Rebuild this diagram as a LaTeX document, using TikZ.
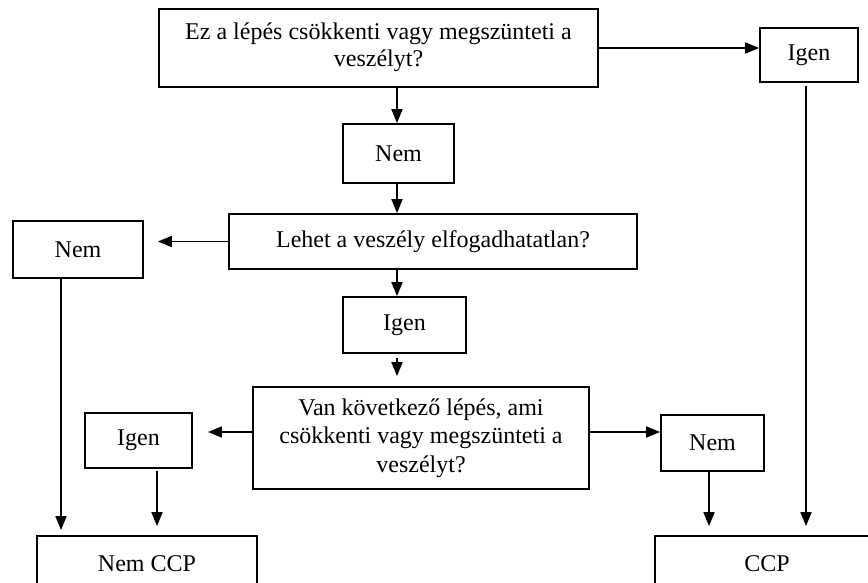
\documentclass[tikz,border=0pt]{standalone}
\usepackage{fontspec}
\setmainfont{Liberation Serif}
\usetikzlibrary{arrows.meta}
\begin{document}
\begin{tikzpicture}[x=1pt,y=-1pt,
  box/.style={draw,line width=1.8pt,inner sep=0pt,align=center,
    font=\fontsize{24}{28.5}\selectfont},
  arr/.style={line width=1.8pt,-{Triangle[length=14pt,width=11pt]}}]
\clip (0,0) rectangle (868,583);
\fill[white] (0,0) rectangle (868,583);

% decision and answer boxes
\node[box,minimum width=439pt,minimum height=78pt] (q1) at (378.5,48)
  {\raisebox{-5pt}[0pt][0pt]{\parbox{439pt}{\centering\baselineskip=27pt
   Ez a lépés csökkenti vagy megszünteti a\\veszélyt?}}};
\node[box,minimum width=98pt,minimum height=54pt] (yes1) at (809,55) {Igen};
\node[box,minimum width=111pt,minimum height=59pt] (no1) at (398.5,153.5) {Nem};
\node[box,minimum width=408pt,minimum height=55pt] (q2) at (433,241.5)
  {Lehet a veszély elfogadhatatlan?};
\node[box,minimum width=130pt,minimum height=57pt] (no2) at (78,249.5) {Nem};
\node[box,minimum width=123pt,minimum height=56pt] (yes2) at (404.5,325) {Igen};
\node[box,minimum width=336pt,minimum height=102pt] (q3) at (421,438)
  {Van következő lépés, ami\\csökkenti vagy megszünteti a\\veszélyt?};
\node[box,minimum width=107pt,minimum height=55pt] (yes3) at (138.5,440.5) {Igen};
\node[box,minimum width=103pt,minimum height=56pt] (no3) at (712.5,443) {Nem};
\node[box,minimum width=220pt,minimum height=56pt] (ncp) at (147,564) {Nem CCP};
\node[box,minimum width=224pt,minimum height=56pt] (ccp) at (767,564) {CCP};

% guide lines for the connectors
\coordinate (col) at (397,0);
\coordinate (row3) at (0,432);
\coordinate (lcol) at (61,0);
\coordinate (ycol) at (157,0);
\coordinate (ncol) at (709,0);
\coordinate (rcol) at (806,0);

% connectors
\draw[arr] (q1.east) -- (q1.east -| yes1.west);
\draw[arr] (q1.south -| col) -- (no1.north -| col);
\draw[arr] (no1.south -| col) -- (q2.north -| col);
\draw[arr,shorten >=14pt] (q2.west) -- (q2.west -| no2.east);
\draw[arr] (q2.south -| col) -- (yes2.north -| col);
\draw[arr,shorten <=4pt,shorten >=10pt] (yes2.south -| col) -- (q3.north -| col);
\draw[arr,shorten >=15pt] (q3.west |- row3) -- (yes3.east |- row3);
\draw[arr] (q3.east |- row3) -- (no3.west |- row3);
\draw[arr,shorten >=5pt] (no2.south -| lcol) -- (ncp.north -| lcol);
\draw[arr,shorten <=2pt,shorten >=9pt] (yes3.south -| ycol) -- (ncp.north -| ycol);
\draw[arr,shorten >=9pt] (no3.south -| ncol) -- (ccp.north -| ncol);
\draw[arr,shorten <=3pt,shorten >=9pt] (yes1.south -| rcol) -- (ccp.north -| rcol);
\end{tikzpicture}
\end{document}
